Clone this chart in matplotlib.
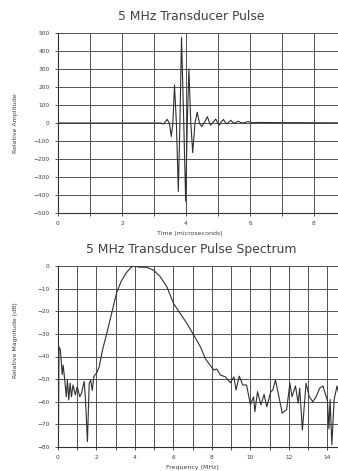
import matplotlib.pyplot as plt
from matplotlib.ticker import MultipleLocator, FixedLocator

# 5 MHz transducer pulse (time in microseconds, relative amplitude)
pulse_t = [0.0, 3.20, 3.30, 3.41, 3.48, 3.54, 3.59, 3.64, 3.70, 3.76, 3.81, 3.86,
           3.93, 3.99, 4.04, 4.09, 4.15, 4.21, 4.28, 4.35, 4.42, 4.49, 4.58, 4.67,
           4.72, 4.77, 4.85, 4.93, 4.98, 5.04, 5.10, 5.17, 5.22, 5.28, 5.34, 5.40,
           5.45, 5.51, 5.57, 5.63, 5.70, 5.77, 5.85, 5.93, 6.05, 6.30, 7.00, 8.75]
pulse_amp = [0, 0, -5, 20, 0, -75, 0, 210, 0, -380, 0, 475,
             0, -435, 0, 300, 0, -165, 0, 60, 0, -20, 5, 35,
             8, -12, 5, 22, 5, -12, 5, 20, 5, -5, 5, 15,
             5, -2, 4, 10, 3, 0, 3, 8, 2, 3, 2, 1]

# spectrum (frequency in MHz, relative magnitude in dB)
spec_f = [0.02, 0.05, 0.12, 0.22, 0.27, 0.35, 0.43, 0.49, 0.56, 0.63, 0.70, 0.78,
          0.90, 1.00, 1.13, 1.22, 1.36, 1.43, 1.53, 1.62, 1.70, 1.78, 1.86, 1.93,
          2.00, 2.14, 2.31, 2.49, 2.66, 2.87, 3.04, 3.27, 3.53, 3.79, 3.97, 4.20,
          4.60, 4.97, 5.31, 5.66, 6.00, 6.35, 6.70, 7.05, 7.40, 7.66, 7.92, 8.10,
          8.25, 8.44, 8.70, 8.96, 9.14, 9.25, 9.42, 9.60, 9.80, 10.00, 10.16, 10.23,
          10.37, 10.54, 10.71, 10.85, 11.06, 11.16, 11.30, 11.48, 11.65, 11.88, 12.05, 12.16,
          12.34, 12.48, 12.56, 12.70, 12.89, 13.06, 13.24, 13.41, 13.60, 13.77, 14.00, 14.08,
          14.14, 14.23, 14.35, 14.50, 14.60]
spec_db = [-80, -35.7, -37, -48, -43.8, -50.4, -57.8, -50.4, -59.2, -51.8, -57.8, -52.6,
           -57, -53.3, -57.8, -56.3, -51, -59.2, -77.6, -52, -50.4, -55, -49, -48,
           -47.5, -44.6, -37.2, -31.3, -25.4, -18, -12, -7, -3.2, -0.6, 0, -0.5,
           -0.6, -1.8, -4.7, -9.2, -16.5, -21, -25.4, -30.5, -35.7, -41, -44, -46,
           -45.5, -48.2, -49, -51.6, -49, -54.8, -48.7, -52.6, -52.6, -61.4, -57.8, -64.4,
           -55.5, -61.4, -56.8, -62.2, -55.5, -54.8, -50.4, -57.8, -65, -63.5, -51.8, -57.8,
           -53, -60.6, -54, -72.5, -51.8, -57.8, -60, -57.8, -54, -53, -59.5, -72,
           -59, -79, -59, -53, -57]

ink = '#303030'
grid_c = '#505050'

fig = plt.figure(figsize=(3.38, 4.71), dpi=100)
fig.patch.set_facecolor('white')


def style(ax, xmax, xmajor, ymin, ymax, ystep):
    ax.set_xlim(0, xmax)
    ax.set_ylim(ymin, ymax)
    ax.xaxis.set_major_locator(MultipleLocator(xmajor))
    ax.xaxis.set_minor_locator(MultipleLocator(1))
    ax.yaxis.set_major_locator(MultipleLocator(ystep))
    ax.grid(which='both', color=grid_c, linewidth=0.7)
    ax.set_axisbelow(True)
    for s in ['top', 'right']:
        ax.spines[s].set_visible(False)
    for s in ['left', 'bottom']:
        ax.spines[s].set_color(ink)
        ax.spines[s].set_linewidth(0.8)
    ax.tick_params(which='both', direction='out', length=2, width=0.6,
                   color=ink, labelsize=4.2, labelcolor='#404040', pad=4)


# top: pulse
ax1 = fig.add_axes([58 / 338, 1 - 213 / 471, 1 - 58 / 338, 180 / 471])
ax1.plot(pulse_t, pulse_amp, color=ink, linewidth=0.8)
style(ax1, 8.75, 2, -500, 500, 100)
ax1.yaxis.set_major_locator(FixedLocator(list(range(-500, 501, 100))))
ax1.set_yticklabels([f'{v}'.replace('-', '\u2212') for v in range(-500, 501, 100)])

# bottom: spectrum
ax2 = fig.add_axes([58 / 338, 1 - 447 / 471, 1 - 58 / 338, 181 / 471])
ax2.plot(spec_f, spec_db, color=ink, linewidth=0.8)
style(ax2, 14.55, 2, -80, 0, 10)

fig.text(191 / 338, 1 - 16 / 471, '5 MHz Transducer Pulse', ha='center', va='center',
         fontsize=8.9, color='#404040')
fig.text(191 / 338, 1 - 249 / 471, '5 MHz Transducer Pulse Spectrum', ha='center',
         va='center', fontsize=8.9, color='#404040')
fig.text(190 / 338, 1 - 234 / 471, 'Time (microseconds)', ha='center', va='center',
         fontsize=4.5, color='#404040')
fig.text(192 / 338, 1 - 467 / 471, 'Frequency (MHz)', ha='center', va='center',
         fontsize=4.5, color='#404040')
fig.text(16 / 338, 1 - 123 / 471, 'Relative Amplitude', ha='center', va='center',
         rotation=90, fontsize=4.5, color='#404040')
fig.text(16 / 338, 1 - 340 / 471, 'Relative Magnitude (dB)', ha='center', va='center',
         rotation=90, fontsize=4.5, color='#404040')

fig.savefig('out.png', dpi=100)
